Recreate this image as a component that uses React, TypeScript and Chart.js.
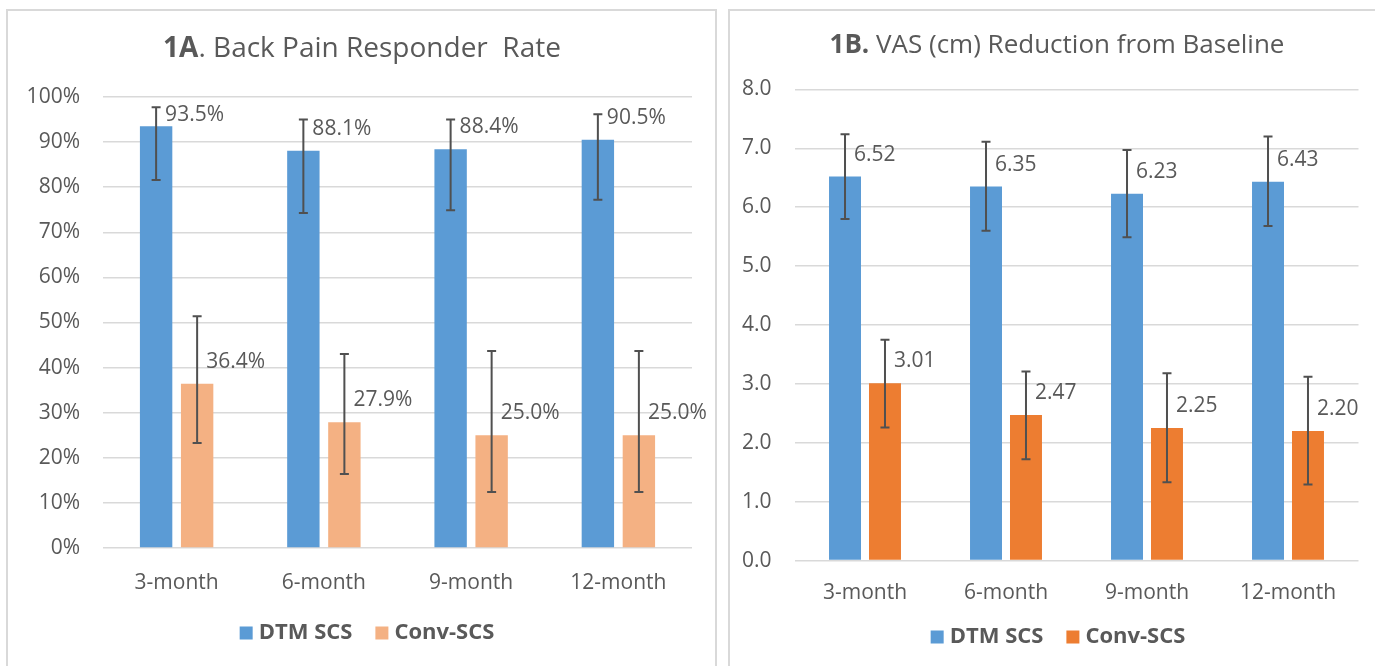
import React, { useEffect, useRef } from 'react';
import { Chart, registerables } from 'chart.js';

Chart.register(...registerables);

// ---------- data ----------
const categories = ['3-month', '6-month', '9-month', '12-month'];
const seriesNames = ['DTM SCS', 'Conv-SCS'];

// 1A. Back Pain Responder Rate (%)
const responderDTM = [93.5, 88.1, 88.4, 90.5];
const responderConv = [36.4, 27.9, 25.0, 25.0];
const responderDTMLow = [81.6, 74.3, 74.9, 77.2];
const responderDTMHigh = [97.7, 95.0, 95.0, 96.2];
const responderConvLow = [23.3, 16.4, 12.4, 12.4];
const responderConvHigh = [51.4, 43.0, 43.7, 43.7];
const responderAxis = { min: 0, max: 100, step: 10 };

// 1B. VAS (cm) Reduction from Baseline
const vasDTM = [6.52, 6.35, 6.23, 6.43];
const vasConv = [3.01, 2.47, 2.25, 2.2];
const vasDTMLow = [5.8, 5.6, 5.49, 5.68];
const vasDTMHigh = [7.24, 7.11, 6.97, 7.2];
const vasConvLow = [2.26, 1.72, 1.33, 1.29];
const vasConvHigh = [3.75, 3.21, 3.18, 3.12];
const vasAxis = { min: 0, max: 8, step: 1 };

// ---------- styling ----------
const TEXT = '#595959';
const GRID = '#d9d9d9';
const ERR = '#505050';
const FONT = "'Open Sans', sans-serif";
const BLUE = '#5b9bd5';

type TitlePart = { text: string; bold: boolean };

type PanelCfg = {
  left: number;
  width: number;
  height: number;
  values: number[][];
  lows: number[][];
  highs: number[][];
  colors: string[];
  axis: { min: number; max: number; step: number };
  tickFmt: (v: number) => string;
  labelFmt: (v: number) => string;
  title: TitlePart[];
  titleSize: number;
  titleX: number;
  titleY: number;
  legendX: number;
  legendY: number;
  yAxisWidth: number;
  padding: { left: number; right: number; top: number; bottom: number };
  xPad: number;
  catPct: number;
  barPct: number;
};

function makeDecor(cfg: PanelCfg) {
  return {
    id: 'decor',
    afterDatasetsDraw(chart: any) {
      const ctx: CanvasRenderingContext2D = chart.ctx;
      const ys = chart.scales.y;
      const area = chart.chartArea;
      // error bars
      chart.data.datasets.forEach((_ds: any, di: number) => {
        const meta = chart.getDatasetMeta(di);
        meta.data.forEach((bar: any, i: number) => {
          const x = bar.x;
          const yl = ys.getPixelForValue(cfg.lows[di][i]);
          const yh = ys.getPixelForValue(cfg.highs[di][i]);
          ctx.save();
          ctx.strokeStyle = ERR;
          ctx.lineWidth = 2;
          ctx.beginPath();
          ctx.moveTo(x, yl);
          ctx.lineTo(x, yh);
          ctx.moveTo(x - 4.5, yl);
          ctx.lineTo(x + 4.5, yl);
          ctx.moveTo(x - 4.5, yh);
          ctx.lineTo(x + 4.5, yh);
          ctx.stroke();
          ctx.restore();
        });
      });
      // data labels
      chart.data.datasets.forEach((ds: any, di: number) => {
        const meta = chart.getDatasetMeta(di);
        meta.data.forEach((bar: any, i: number) => {
          const v = ds.data[i] as number;
          const cy = Math.max(bar.y - 22, area.top + 18);
          ctx.save();
          ctx.font = `21px ${FONT}`;
          ctx.fillStyle = TEXT;
          ctx.textAlign = 'left';
          ctx.textBaseline = 'middle';
          ctx.fillText(cfg.labelFmt(v), bar.x + 9, cy);
          ctx.restore();
        });
      });
    },
    afterDraw(chart: any) {
      const ctx: CanvasRenderingContext2D = chart.ctx;
      // title with mixed weights
      ctx.save();
      ctx.textBaseline = 'middle';
      ctx.fillStyle = TEXT;
      const fontOf = (p: TitlePart) => `${p.bold ? 'bold ' : ''}${cfg.titleSize}px ${FONT}`;
      const widths = cfg.title.map((p) => {
        ctx.font = fontOf(p);
        return ctx.measureText(p.text).width;
      });
      const total = widths.reduce((a, b) => a + b, 0);
      let x = cfg.titleX - total / 2;
      cfg.title.forEach((p, k) => {
        ctx.font = fontOf(p);
        ctx.textAlign = 'left';
        ctx.fillText(p.text, x, cfg.titleY);
        x += widths[k];
      });
      ctx.restore();

      // legend
      ctx.save();
      ctx.font = `bold 22px ${FONT}`;
      ctx.textBaseline = 'middle';
      const box = 13;
      const gap = 6;
      const itemGap = 23;
      const items = chart.data.datasets.map((ds: any) => ({
        label: ds.label as string,
        color: ds.backgroundColor as string,
        w: ctx.measureText(ds.label).width,
      }));
      const lw = items.reduce((a: number, it: any) => a + box + gap + it.w, 0) + itemGap * (items.length - 1);
      let lx = cfg.legendX - lw / 2;
      items.forEach((it: any) => {
        ctx.fillStyle = it.color;
        ctx.fillRect(lx, cfg.legendY - box / 2, box, box);
        ctx.fillStyle = TEXT;
        ctx.textAlign = 'left';
        ctx.fillText(it.label, lx + box + gap, cfg.legendY);
        lx += box + gap + it.w + itemGap;
      });
      ctx.restore();
    },
  };
}

function PanelChart({ cfg }: { cfg: PanelCfg }) {
  const ref = useRef<HTMLCanvasElement>(null);
  useEffect(() => {
    const chart = new Chart(ref.current as HTMLCanvasElement, {
      type: 'bar',
      data: {
        labels: categories,
        datasets: cfg.values.map((vals, i) => ({
          label: seriesNames[i],
          data: vals,
          backgroundColor: cfg.colors[i],
          borderWidth: 0,
          categoryPercentage: cfg.catPct,
          barPercentage: cfg.barPct,
        })),
      },
      options: {
        responsive: false,
        animation: false,
        devicePixelRatio: 1,
        layout: { padding: cfg.padding },
        plugins: {
          legend: { display: false },
          title: { display: false },
          tooltip: { enabled: false },
        },
        scales: {
          x: {
            grid: { display: false },
            border: { display: false },
            ticks: {
              color: TEXT,
              font: { family: FONT, size: 21 },
              padding: cfg.xPad,
              maxRotation: 0,
            },
            afterFit: (s: any) => {
              s.height = 60;
            },
          },
          y: {
            min: cfg.axis.min,
            max: cfg.axis.max,
            grid: { color: GRID, lineWidth: 1.5, drawTicks: false },
            border: { display: false },
            ticks: {
              stepSize: cfg.axis.step,
              color: TEXT,
              font: { family: FONT, size: 21 },
              padding: 23,
              callback: (v: any) => cfg.tickFmt(Number(v)),
            },
            afterFit: (s: any) => {
              s.width = cfg.yAxisWidth;
            },
          },
        },
      },
      plugins: [makeDecor(cfg)],
    });
    return () => chart.destroy();
  }, []);
  return (
    <canvas
      ref={ref}
      width={cfg.width}
      height={cfg.height}
      style={{ position: 'absolute', left: cfg.left, top: 0, width: cfg.width, height: cfg.height }}
    />
  );
}

const leftCfg: PanelCfg = {
  left: 0,
  width: 720,
  height: 666,
  values: [responderDTM, responderConv],
  lows: [responderDTMLow, responderConvLow],
  highs: [responderDTMHigh, responderConvHigh],
  colors: [BLUE, '#f4b183'],
  axis: responderAxis,
  tickFmt: (v) => `${v}%`,
  labelFmt: (v) => `${v.toFixed(1)}%`,
  title: [
    { text: '1A', bold: true },
    { text: '. Back Pain Responder  Rate', bold: false },
  ],
  titleSize: 28,
  titleX: 362,
  titleY: 49,
  legendX: 367,
  legendY: 633,
  yAxisWidth: 103,
  padding: { left: 0, right: 28, top: 97, bottom: 58 },
  xPad: 14,
  catPct: 0.557,
  barPct: 0.79,
};

const rightCfg: PanelCfg = {
  left: 720,
  width: 655,
  height: 666,
  values: [vasDTM, vasConv],
  lows: [vasDTMLow, vasConvLow],
  highs: [vasDTMHigh, vasConvHigh],
  colors: [BLUE, '#ed7d31'],
  axis: vasAxis,
  tickFmt: (v) => v.toFixed(1),
  labelFmt: (v) => v.toFixed(2),
  title: [
    { text: '1B.', bold: true },
    { text: ' VAS (cm) Reduction from Baseline', bold: false },
  ],
  titleSize: 26,
  titleX: 337,
  titleY: 46,
  legendX: 338,
  legendY: 637,
  yAxisWidth: 74.5,
  padding: { left: 0, right: 16.5, top: 89.4, bottom: 45.4 },
  xPad: 11.5,
  catPct: 0.567,
  barPct: 0.8,
};

export default function App() {
  return (
    <div
      style={{
        position: 'absolute',
        left: 0,
        top: 0,
        width: 1375,
        height: 666,
        overflow: 'hidden',
        background: '#ffffff',
      }}
    >
      <div
        style={{
          position: 'absolute',
          left: 6,
          top: 9,
          width: 711,
          height: 700,
          border: '2px solid #d9d9d9',
          boxSizing: 'border-box',
        }}
      />
      <div
        style={{
          position: 'absolute',
          left: 728,
          top: 9,
          width: 700,
          height: 700,
          border: '2px solid #d9d9d9',
          boxSizing: 'border-box',
        }}
      />
      <PanelChart cfg={leftCfg} />
      <PanelChart cfg={rightCfg} />
    </div>
  );
}
